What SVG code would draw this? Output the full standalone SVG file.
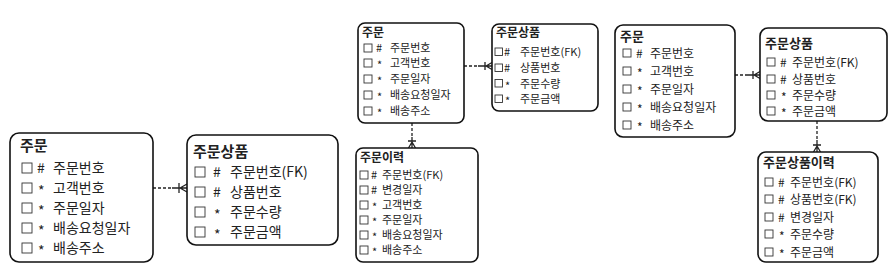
<svg xmlns="http://www.w3.org/2000/svg" width="890" height="272" viewBox="0 0 890 272">
<style>
.box{fill:#fff;stroke:#111;stroke-width:1.6}
.cb{fill:none;stroke:#333;stroke-width:0.9}
text{font-family:"Noto Sans CJK KR","Liberation Sans",sans-serif;fill:#222}
.t1{font-size:15px;font-weight:bold}
.r1{font-size:14px}
.t2{font-size:12px;font-weight:bold}
.r2{font-size:11px}
.t3{font-size:13px;font-weight:bold}
.r3{font-size:12px}
.dash{stroke:#222;stroke-width:1.3;stroke-dasharray:3 2;fill:none}
.sol{stroke:#222;stroke-width:1.3;fill:none}
</style>
<rect width="890" height="272" fill="#fff"/>

<g id="connectors">
  <!-- 1: 주문 -> 주문상품 (left) -->
  <line class="dash" x1="153" y1="188" x2="172" y2="188"/>
  <path class="sol" d="M172 188H187M179 183V193M180 188L187 184M180 188L187 192"/>
  <!-- 2: 주문 -> 주문상품 (mid) -->
  <line class="dash" x1="464" y1="66" x2="478" y2="66"/>
  <path class="sol" d="M478 66H492M485 62V70M486 66L492 62.5M486 66L492 69.5"/>
  <!-- 3: 주문 -> 주문이력 -->
  <line class="dash" x1="412" y1="123" x2="412" y2="137"/>
  <path class="sol" d="M412 137V148M408 141H416M412 142L408.5 148M412 142L415.5 148"/>
  <!-- 4: 주문 -> 주문상품 (right) -->
  <line class="dash" x1="735" y1="75" x2="747" y2="75"/>
  <path class="sol" d="M747 75H760M753 71V79M754 75L760 71.5M754 75L760 78.5"/>
  <!-- 5: 주문상품 -> 주문상품이력 -->
  <line class="dash" x1="817" y1="121" x2="817" y2="140"/>
  <path class="sol" d="M817 140V152M813 145H821M817 146L813.5 152M817 146L820.5 152"/>
</g>

<g id="order1">
  <rect class="box" x="10" y="133" width="143" height="129" rx="9"/>
  <text class="t1" x="20" y="151">주문</text>
  <rect class="cb" x="22" y="163" width="10" height="10"/><text class="r1" x="37" y="173">#</text><text class="r1" x="53" y="173">주문번호</text>
  <rect class="cb" x="22" y="183" width="10" height="10"/><text class="r1" x="38" y="196">*</text><text class="r1" x="53" y="193">고객번호</text>
  <rect class="cb" x="22" y="203" width="10" height="10"/><text class="r1" x="38" y="216">*</text><text class="r1" x="53" y="213">주문일자</text>
  <rect class="cb" x="22" y="223" width="10" height="10"/><text class="r1" x="38" y="236">*</text><text class="r1" x="53" y="233">배송요청일자</text>
  <rect class="cb" x="22" y="243" width="10" height="10"/><text class="r1" x="38" y="256">*</text><text class="r1" x="53" y="253">배송주소</text>
</g>

<g id="orderitem1">
  <rect class="box" x="187" y="135" width="151" height="110" rx="9"/>
  <text class="t1" x="193" y="157">주문상품</text>
  <rect class="cb" x="195" y="167" width="10" height="10"/><text class="r1" x="213" y="177">#</text><text class="r1" x="230" y="177">주문번호(FK)</text>
  <rect class="cb" x="195" y="187" width="10" height="10"/><text class="r1" x="213" y="197">#</text><text class="r1" x="230" y="197">상품번호</text>
  <rect class="cb" x="195" y="207" width="10" height="10"/><text class="r1" x="214" y="220">*</text><text class="r1" x="230" y="217">주문수량</text>
  <rect class="cb" x="195" y="227" width="10" height="10"/><text class="r1" x="214" y="240">*</text><text class="r1" x="230" y="237">주문금액</text>
</g>

<g id="order2">
  <rect class="box" x="358" y="23" width="106" height="100" rx="7"/>
  <text class="t2" x="362" y="37">주문</text>
  <rect class="cb" x="364" y="44" width="8" height="8"/><text class="r2" x="376" y="52">#</text><text class="r2" x="390" y="52">주문번호</text>
  <rect class="cb" x="364" y="59" width="8" height="8"/><text class="r2" x="377" y="69">*</text><text class="r2" x="390" y="67">고객번호</text>
  <rect class="cb" x="364" y="75" width="8" height="8"/><text class="r2" x="377" y="85">*</text><text class="r2" x="390" y="83">주문일자</text>
  <rect class="cb" x="364" y="91" width="8" height="8"/><text class="r2" x="377" y="101">*</text><text class="r2" x="390" y="99">배송요청일자</text>
  <rect class="cb" x="364" y="107" width="8" height="8"/><text class="r2" x="377" y="117">*</text><text class="r2" x="390" y="115">배송주소</text>
</g>

<g id="orderitem2">
  <rect class="box" x="492" y="24" width="106" height="87" rx="7"/>
  <text class="t2" x="496" y="37">주문상품</text>
  <rect class="cb" x="495" y="48" width="7.5" height="7.5"/><text class="r2" x="504" y="56">#</text><text class="r2" x="520" y="56">주문번호(FK)</text>
  <rect class="cb" x="495" y="64" width="7.5" height="7.5"/><text class="r2" x="504" y="72">#</text><text class="r2" x="520" y="72">상품번호</text>
  <rect class="cb" x="495" y="79.5" width="7.5" height="7.5"/><text class="r2" x="505" y="90">*</text><text class="r2" x="520" y="87.5">주문수량</text>
  <rect class="cb" x="495" y="95" width="7.5" height="7.5"/><text class="r2" x="505" y="105">*</text><text class="r2" x="520" y="103">주문금액</text>
</g>

<g id="orderhistory">
  <rect class="box" x="356" y="148" width="122" height="114" rx="7"/>
  <text class="t2" x="360" y="162">주문이력</text>
  <rect class="cb" x="360" y="171" width="8" height="8"/><text class="r2" x="371" y="179">#</text><text class="r2" x="382" y="179">주문번호(FK)</text>
  <rect class="cb" x="360" y="186" width="8" height="8"/><text class="r2" x="371" y="194">#</text><text class="r2" x="382" y="194">변경일자</text>
  <rect class="cb" x="360" y="201" width="8" height="8"/><text class="r2" x="372" y="211">*</text><text class="r2" x="382" y="209">고객번호</text>
  <rect class="cb" x="360" y="216" width="8" height="8"/><text class="r2" x="372" y="226">*</text><text class="r2" x="382" y="224">주문일자</text>
  <rect class="cb" x="360" y="231" width="8" height="8"/><text class="r2" x="372" y="241">*</text><text class="r2" x="382" y="239">배송요청일자</text>
  <rect class="cb" x="360" y="246" width="8" height="8"/><text class="r2" x="372" y="256">*</text><text class="r2" x="382" y="254">배송주소</text>
</g>

<g id="order3">
  <rect class="box" x="615" y="25" width="120" height="112" rx="8"/>
  <text class="t3" x="620" y="41">주문</text>
  <rect class="cb" x="623" y="49" width="8" height="8"/><text class="r3" x="636" y="57.5">#</text><text class="r3" x="650" y="57.5">주문번호</text>
  <rect class="cb" x="623" y="67" width="8" height="8"/><text class="r3" x="637" y="78">*</text><text class="r3" x="650" y="75.5">고객번호</text>
  <rect class="cb" x="623" y="85" width="8" height="8"/><text class="r3" x="637" y="96">*</text><text class="r3" x="650" y="93.5">주문일자</text>
  <rect class="cb" x="623" y="103" width="8" height="8"/><text class="r3" x="637" y="114">*</text><text class="r3" x="650" y="111.5">배송요청일자</text>
  <rect class="cb" x="623" y="121" width="8" height="8"/><text class="r3" x="637" y="132">*</text><text class="r3" x="650" y="129.5">배송주소</text>
</g>

<g id="orderitem3">
  <rect class="box" x="760" y="28" width="127" height="93" rx="8"/>
  <text class="t3" x="765" y="48">주문상품</text>
  <rect class="cb" x="767" y="58" width="8" height="8"/><text class="r3" x="780" y="66.5">#</text><text class="r3" x="792" y="66.5">주문번호(FK)</text>
  <rect class="cb" x="767" y="75" width="8" height="8"/><text class="r3" x="780" y="83.5">#</text><text class="r3" x="792" y="83.5">상품번호</text>
  <rect class="cb" x="767" y="91" width="8" height="8"/><text class="r3" x="781" y="102">*</text><text class="r3" x="792" y="99.5">주문수량</text>
  <rect class="cb" x="767" y="107" width="8" height="8"/><text class="r3" x="781" y="118">*</text><text class="r3" x="792" y="115.5">주문금액</text>
</g>

<g id="orderitemhistory">
  <rect class="box" x="758" y="152" width="120" height="110" rx="8"/>
  <text class="t3" x="763" y="167">주문상품이력</text>
  <rect class="cb" x="765" y="178" width="8" height="8"/><text class="r3" x="778" y="186.5">#</text><text class="r3" x="790" y="186.5">주문번호(FK)</text>
  <rect class="cb" x="765" y="195" width="8" height="8"/><text class="r3" x="778" y="203.5">#</text><text class="r3" x="790" y="203.5">상품번호(FK)</text>
  <rect class="cb" x="765" y="213" width="8" height="8"/><text class="r3" x="778" y="221.5">#</text><text class="r3" x="790" y="221.5">변경일자</text>
  <rect class="cb" x="765" y="230" width="8" height="8"/><text class="r3" x="779" y="241">*</text><text class="r3" x="790" y="238.5">주문수량</text>
  <rect class="cb" x="765" y="248" width="8" height="8"/><text class="r3" x="779" y="259">*</text><text class="r3" x="790" y="256.5">주문금액</text>
</g>
</svg>
